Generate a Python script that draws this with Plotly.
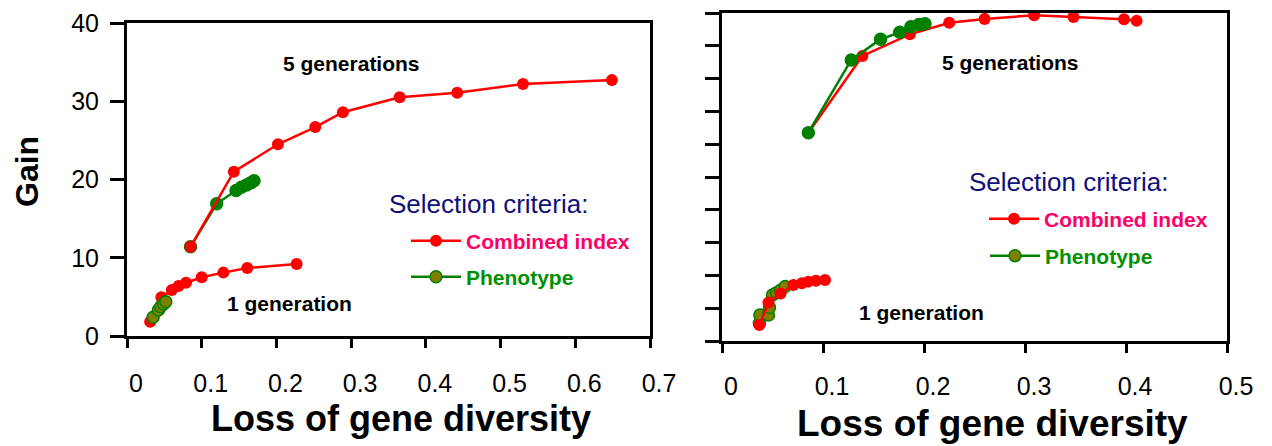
import plotly.graph_objects as go

# ---------------- data ----------------
# Left panel (x: loss of gene diversity, y: gain)
L_ci5_x = [0.085, 0.143, 0.202, 0.252, 0.289, 0.365, 0.442, 0.530, 0.649]
L_ci5_y = [11.4, 21.0, 24.5, 26.7, 28.6, 30.5, 31.1, 32.2, 32.7]
L_ph5_x = [0.085, 0.120, 0.146, 0.153, 0.160, 0.166, 0.170]
L_ph5_y = [11.4, 16.9, 18.6, 19.0, 19.3, 19.6, 19.85]
L_ci1_x = [0.031, 0.046, 0.060, 0.069, 0.079, 0.100, 0.129, 0.161, 0.227]
L_ci1_y = [1.83, 4.94, 5.88, 6.39, 6.81, 7.5, 8.1, 8.69, 9.2]
L_ph1_x = [0.035, 0.042, 0.045, 0.049, 0.052]
L_ph1_y = [2.39, 3.32, 3.75, 4.09, 4.39]

# Right panel
R_ci5_x = [0.0855, 0.139, 0.186, 0.225, 0.260, 0.309, 0.348, 0.398, 0.4105]
R_ci5_y = [6.35, 8.69, 9.35, 9.70, 9.82, 9.93, 9.88, 9.81, 9.76]
R_ph5_x = [0.0855, 0.128, 0.157, 0.176, 0.187, 0.195, 0.201]
R_ph5_y = [6.35, 8.57, 9.20, 9.41, 9.58, 9.65, 9.67]
R_ci1_x = [0.037, 0.046, 0.058, 0.0706, 0.079, 0.0855, 0.093, 0.102]
R_ci1_y = [0.49, 1.17, 1.45, 1.71, 1.76, 1.81, 1.84, 1.86]
R_ph1_x = [0.037, 0.0375, 0.046, 0.047, 0.050, 0.054, 0.058, 0.0625]
R_ph1_y = [0.54, 0.79, 0.79, 1.02, 1.40, 1.47, 1.55, 1.66]

L_xticks = [0, 0.1, 0.2, 0.3, 0.4, 0.5, 0.6, 0.7]
L_yticks = [0, 10, 20, 30, 40]
R_xticks = [0, 0.1, 0.2, 0.3, 0.4, 0.5]
R_yticks = [0, 1, 2, 3, 4, 5, 6, 7, 8, 9, 10]

# ---------------- style ----------------
W, H = 1272, 446
RED = "#ff0000"
GREEN = "#008000"
OLIVE = "#808000"
FONT = "Arial, Liberation Sans, sans-serif"
CI_NAME = "<span style='color:#ff0066'><b>Combined index</b></span>"
PH_NAME = "<span style='color:#009000'><b>Phenotype</b></span>"
MSIZE = 12

fig = go.Figure()


def red_trace(x, y, xa, ya, legend, show):
    return go.Scatter(x=x, y=y, xaxis=xa, yaxis=ya, mode="lines+markers",
                      line=dict(color=RED, width=2.5),
                      marker=dict(color=RED, size=MSIZE, line=dict(width=0)),
                      name=CI_NAME, legend=legend, showlegend=show)


def green_trace(x, y, xa, ya, legend, show, fill):
    return go.Scatter(x=x, y=y, xaxis=xa, yaxis=ya, mode="lines+markers",
                      line=dict(color=GREEN, width=2.5),
                      marker=dict(color=fill, size=MSIZE, line=dict(color=GREEN, width=1.5)),
                      name=PH_NAME, legend=legend, showlegend=show)


# left panel
fig.add_trace(red_trace(L_ci1_x, L_ci1_y, "x", "y", "legend", True))
fig.add_trace(green_trace(L_ph1_x, L_ph1_y, "x", "y", "legend2", True, OLIVE))
fig.add_trace(green_trace(L_ph5_x, L_ph5_y, "x", "y", "legend2", False, GREEN))
fig.add_trace(red_trace(L_ci5_x, L_ci5_y, "x", "y", "legend", False))
# right panel
fig.add_trace(green_trace(R_ph1_x, R_ph1_y, "x2", "y2", "legend4", True, OLIVE))
fig.add_trace(red_trace(R_ci1_x, R_ci1_y, "x2", "y2", "legend3", True))
fig.add_trace(red_trace(R_ci5_x, R_ci5_y, "x2", "y2", "legend3", False))
fig.add_trace(green_trace(R_ph5_x, R_ph5_y, "x2", "y2", "legend4", False, GREEN))

axis_common = dict(showline=True, linecolor="black", linewidth=3, mirror=True,
                   ticks="outside", tickcolor="black", tickwidth=2.5,
                   showgrid=False, zeroline=False, automargin=False,
                   tickfont=dict(family=FONT, size=25, color="black"))


def leg(xpx, ypx):
    return dict(x=xpx / W, y=(H - ypx) / H, xanchor="left", yanchor="middle",
                bgcolor="rgba(0,0,0,0)", borderwidth=0, itemwidth=50,
                font=dict(family=FONT, size=21))


fig.update_layout(
    template="none",
    width=W, height=H,
    margin=dict(l=0, r=0, t=0, b=0, pad=0),
    paper_bgcolor="white", plot_bgcolor="white",
    font=dict(family=FONT, color="black"),
    xaxis=dict(domain=[127 / W, 650 / W], range=[0, 0.7], tickvals=L_xticks,
               ticklen=9, ticklabelstandoff=14, ticklabelshift=9, anchor="y",
               **axis_common),
    yaxis=dict(domain=[(H - 336) / H, (H - 23) / H], range=[0, 40], tickvals=L_yticks,
               ticklen=14, ticklabelstandoff=6, anchor="x", **axis_common),
    xaxis2=dict(domain=[722 / W, 1227 / W], range=[0, 0.5], tickvals=R_xticks,
                ticklen=9, ticklabelstandoff=12, ticklabelshift=9, anchor="y2",
                **axis_common),
    yaxis2=dict(domain=[(H - 341) / H, (H - 13) / H], range=[0, 10], tickvals=R_yticks,
                ticklen=14, showticklabels=False, anchor="x2", **axis_common),
    legend=leg(406, 241),
    legend2=leg(406, 277),
    legend3=leg(984, 219),
    legend4=leg(985, 256),
)

ann = [
    dict(text="<b>5 generations</b>", x=0.300, y=34.8, xref="x", yref="y"),
    dict(text="<b>1 generation</b>", x=0.217, y=4.2, xref="x", yref="y"),
    dict(text="<b>5 generations</b>", x=0.286, y=8.48, xref="x2", yref="y2"),
    dict(text="<b>1 generation</b>", x=0.198, y=0.88, xref="x2", yref="y2"),
]
for a in ann:
    fig.add_annotation(text=a["text"], x=a["x"], y=a["y"], xref=a["xref"], yref=a["yref"],
                       xanchor="center", yanchor="middle",
                       showarrow=False, font=dict(family=FONT, size=21, color="black"))

fig.add_annotation(text="Selection criteria:", x=0.348, y=16.87, xref="x", yref="y",
                   xanchor="left", yanchor="middle", showarrow=False,
                   font=dict(family=FONT, size=26, color="#10107a"))
fig.add_annotation(text="Selection criteria:", x=0.2426, y=4.85, xref="x2", yref="y2",
                   xanchor="left", yanchor="middle", showarrow=False,
                   font=dict(family=FONT, size=26, color="#10107a"))

# axis titles
fig.add_annotation(text="<b>Gain</b>", x=27 / W, y=(H - 172) / H, xref="paper", yref="paper",
                   xanchor="center", yanchor="middle",
                   textangle=-90, showarrow=False, font=dict(family=FONT, size=32, color="black"))
fig.add_annotation(text="<b>Loss of gene diversity</b>", x=401 / W, y=(H - 418) / H,
                   xref="paper", yref="paper", xanchor="center", yanchor="middle",
                   showarrow=False, font=dict(family=FONT, size=36, color="black"))
fig.add_annotation(text="<b>Loss of gene diversity</b>", x=992 / W,
                   y=0, xref="paper", yref="paper", xanchor="center", yanchor="bottom",
                   showarrow=False, font=dict(family=FONT, size=37, color="black"))

fig.write_html("out.html", config={"displayModeBar": False},
               post_script="document.body.style.margin='0px';")
